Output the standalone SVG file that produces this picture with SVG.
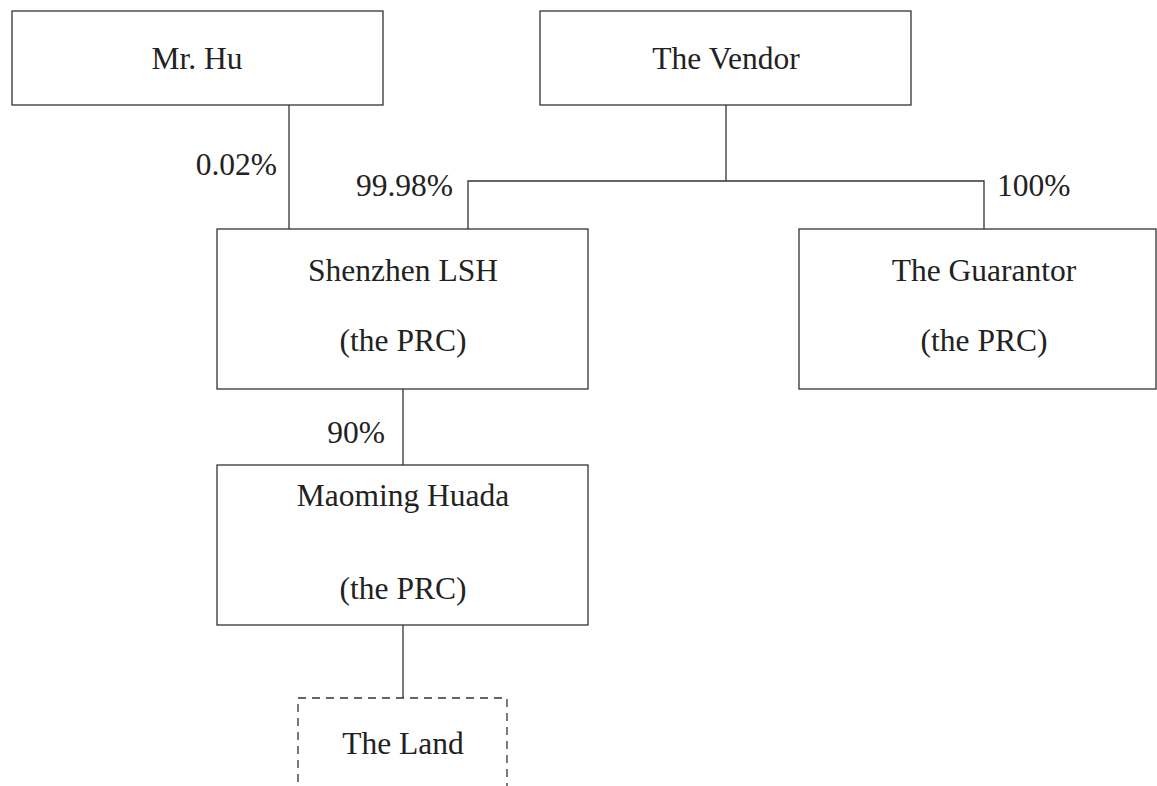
<svg xmlns="http://www.w3.org/2000/svg" width="1157" height="786" viewBox="0 0 1157 786">
<style>
.box{fill:#fff;stroke:#333;stroke-width:1.3}
.dash{fill:none;stroke:#333;stroke-width:1.3;stroke-dasharray:8 6}
.ln{stroke:#333;stroke-width:1.3;fill:none}
text{font-family:"Liberation Serif","Times New Roman",serif;font-size:31.5px;fill:#222}
.c{text-anchor:middle}
.e{text-anchor:end}
</style>
<rect width="1157" height="786" fill="#fff"/>
<g id="connectors">
<line class="ln" x1="289" y1="105" x2="289" y2="229"/>
<line class="ln" x1="726" y1="105" x2="726" y2="181"/>
<polyline class="ln" points="468,229 468,181 984,181 984,229"/>
<line class="ln" x1="403" y1="389" x2="403" y2="465"/>
<line class="ln" x1="403" y1="625" x2="403" y2="698"/>
<text class="e" x="277" y="175">0.02%</text>
<text class="e" x="453" y="196">99.98%</text>
<text x="997" y="196">100%</text>
<text class="e" x="385" y="443">90%</text>
</g>
<g id="mrhu">
<rect class="box" x="12" y="11" width="371" height="94"/>
<text class="c" x="197" y="69">Mr. Hu</text>
</g>
<g id="vendor">
<rect class="box" x="540" y="11" width="371" height="94"/>
<text class="c" x="726" y="69">The Vendor</text>
</g>
<g id="shenzhen">
<rect class="box" x="217" y="229" width="371" height="160"/>
<text class="c" x="403" y="281">Shenzhen LSH</text>
<text class="c" x="403" y="351">(the PRC)</text>
</g>
<g id="guarantor">
<rect class="box" x="799" y="229" width="357" height="160"/>
<text class="c" x="984" y="281">The Guarantor</text>
<text class="c" x="984" y="351">(the PRC)</text>
</g>
<g id="maoming">
<rect class="box" x="217" y="465" width="371" height="160"/>
<text class="c" x="403" y="506">Maoming Huada</text>
<text class="c" x="403" y="599">(the PRC)</text>
</g>
<g id="land">
<rect class="dash" x="298" y="698" width="209" height="120"/>
<text class="c" x="403" y="754">The Land</text>
</g>
</svg>
